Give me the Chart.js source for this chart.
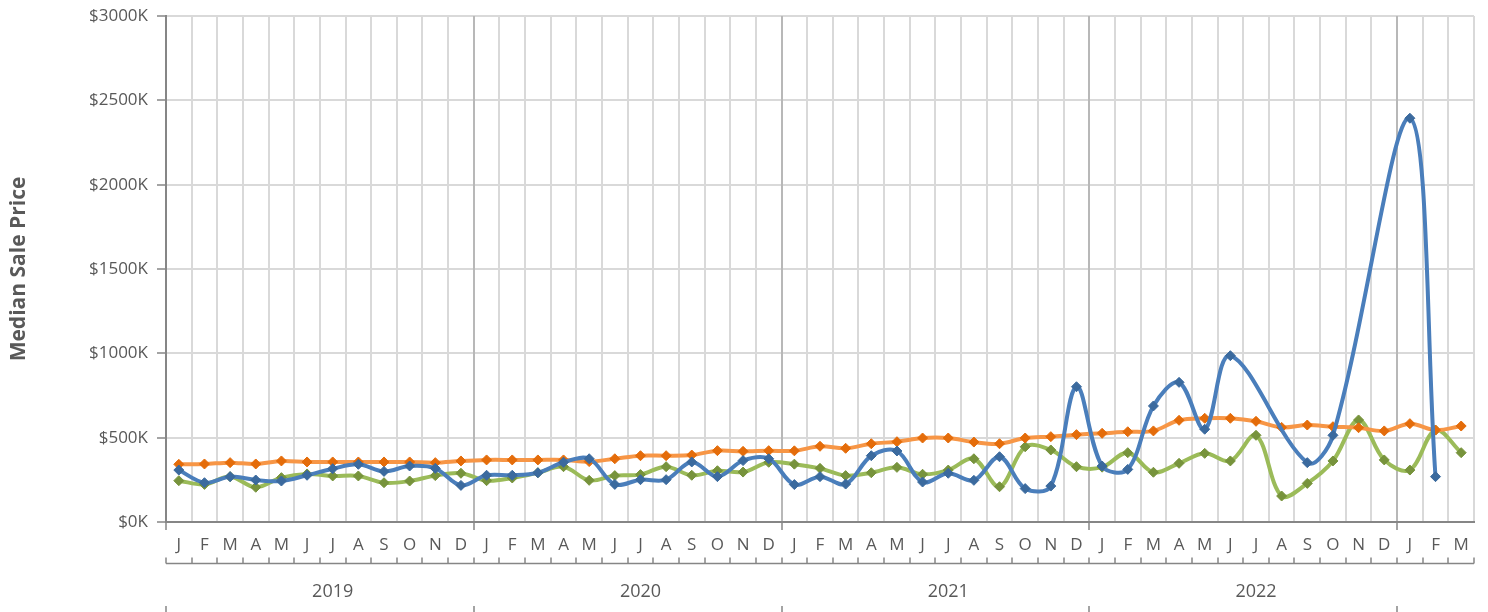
<!DOCTYPE html>
<html>
<head>
<meta charset="utf-8">
<script src="https://cdn.jsdelivr.net/npm/chart.js@4/dist/chart.umd.min.js"></script>
<style>
  body { margin: 0; background: #fff; }
  canvas { display: block; }
</style>
</head>
<body>
<canvas id="chart" width="1488" height="612"></canvas>
<script>
// monthly categories, Jan 2019 - Mar 2023
var months = ['J','F','M','A','M','J','J','A','S','O','N','D',
              'J','F','M','A','M','J','J','A','S','O','N','D',
              'J','F','M','A','M','J','J','A','S','O','N','D',
              'J','F','M','A','M','J','J','A','S','O','N','D',
              'J','F','M'];

// year labels sit under the 7th month of each year
var yearLabels = months.map(function(m, i){
  return (i % 12 === 6) ? String(2019 + Math.floor(i / 12)) : '';
});

// median sale price, in $K
var blueValues = [
  308, 233, 269, 249, 243, 277, 316, 342, 300, 332, 318, 217,
  277, 277, 292, 354, 375, 223, 251, 251, 356, 269, 364, 375,
  222, 269, 225, 393, 421, 237, 289, 247, 387, 198, 213, 802,
  332, 312, 688, 828, 550, 986, null, null, 352, 514, null, null,
  2394, 269, null
];

var orangeValues = [
  342, 344, 352, 344, 362, 356, 356, 356, 356, 356, 352, 362,
  368, 368, 368, 368, 358, 375, 393, 393, 397, 423, 419, 423,
  422, 449, 437, 464, 476, 498, 498, 474, 464, 498, 506, 518,
  526, 535, 540, 603, 615, 615, 597, 561, 575, 565, 559, 540,
  583, 545, 569
];

var greenValues = [
  245, 223, 269, 206, 263, 285, 273, 273, 233, 243, 275, 289,
  245, 261, 292, 328, 247, 275, 281, 328, 277, 304, 296, 354,
  343, 318, 275, 292, 324, 283, 308, 375, 209, 446, 427, 328,
  325, 411, 295, 348, 407, 362, 514, 154, 229, 362, 605, 368,
  308, 545, 411
];

var yTicks = [0, 500, 1000, 1500, 2000, 2500, 3000];

var textColor = '#595959';
var axisColor = '#868686';
var gridColor = '#d9d9d9';
var font = 'Open Sans';

function series(label, data, lineColor, markColor){
  return {
    label: label,
    data: data,
    borderColor: lineColor,
    borderWidth: 4,
    tension: 0.35,
    spanGaps: true,
    pointStyle: 'rectRot',
    pointRadius: 5,
    pointBackgroundColor: markColor,
    pointBorderColor: markColor,
    pointBorderWidth: 1
  };
}

// bracket lines under the month row and year row
var bracketPlugin = {
  id: 'brackets',
  afterDraw: function(chart){
    var x = chart.scales.x;
    var ctx = chart.ctx;
    var step = (x.right - x.left) / months.length;
    var y = chart.scales.x2.top + 0.5;
    ctx.save();
    ctx.strokeStyle = axisColor;
    ctx.lineWidth = 1.5;
    ctx.beginPath();
    ctx.moveTo(x.left, y);
    ctx.lineTo(x.right, y);
    for (var i = 0; i <= months.length; i++) {
      var px = Math.round(x.left + i * step);
      ctx.moveTo(px, y);
      ctx.lineTo(px, y - 6);
    }
    for (var j = 0; j < months.length; j += 12) {
      var bx = Math.round(x.left + j * step);
      ctx.moveTo(bx, chart.height);
      ctx.lineTo(bx, chart.height - 6);
    }
    ctx.stroke();
    ctx.restore();
  }
};

new Chart(document.getElementById('chart'), {
  type: 'line',
  data: {
    labels: months,
    datasets: [
      series('Blue', blueValues, '#4a7ebb', '#3b6a9e'),
      series('Orange', orangeValues, '#f79646', '#e46c0a'),
      series('Green', greenValues, '#9bbb59', '#77933c')
    ]
  },
  options: {
    responsive: false,
    animation: false,
    devicePixelRatio: 1,
    layout: { padding: { top: 16, right: 14, left: 0, bottom: 0 } },
    plugins: {
      legend: { display: false },
      tooltip: { enabled: false }
    },
    scales: {
      y: {
        min: 0,
        max: 3000,
        afterFit: function(scale){
          scale.width = 166;
          scale.paddingTop = 8;
          scale.paddingBottom = 8;
        },
        afterBuildTicks: function(scale){
          scale.ticks = yTicks.map(function(v){ return { value: v }; });
        },
        ticks: {
          color: textColor,
          font: { family: font, size: 17 },
          padding: 9,
          callback: function(v){ return '$' + v + 'K'; }
        },
        grid: {
          color: gridColor,
          lineWidth: 2,
          tickColor: axisColor,
          tickLength: 9,
          tickWidth: 1.5
        },
        border: { color: axisColor, width: 2 },
        title: {
          display: true,
          text: 'Median Sale Price',
          color: textColor,
          font: { family: font, size: 21, weight: 'bold' },
          padding: { top: 6, bottom: 0 }
        }
      },
      x: {
        offset: true,
        afterFit: function(scale){ scale.height = 41; },
        ticks: {
          color: textColor,
          font: { family: font, size: 17 },
          padding: 5,
          autoSkip: false,
          maxRotation: 0
        },
        grid: {
          offset: true,
          lineWidth: 2,
          color: function(ctx){ return ctx.index % 12 === 0 ? '#b8b8b8' : gridColor; },
          tickColor: function(ctx){ return ctx.index % 12 === 0 ? axisColor : 'rgba(0,0,0,0)'; },
          tickLength: 8,
          tickWidth: 1.5
        },
        border: { color: axisColor, width: 2 }
      },
      x2: {
        type: 'category',
        position: 'bottom',
        labels: yearLabels,
        offset: true,
        afterFit: function(scale){ scale.height = 49; },
        ticks: {
          color: textColor,
          font: { family: font, size: 18 },
          padding: 18,
          autoSkip: false,
          maxRotation: 0
        },
        grid: { display: false, drawTicks: false },
        border: { display: false }
      }
    }
  },
  plugins: [bracketPlugin]
});
</script>
</body>
</html>
